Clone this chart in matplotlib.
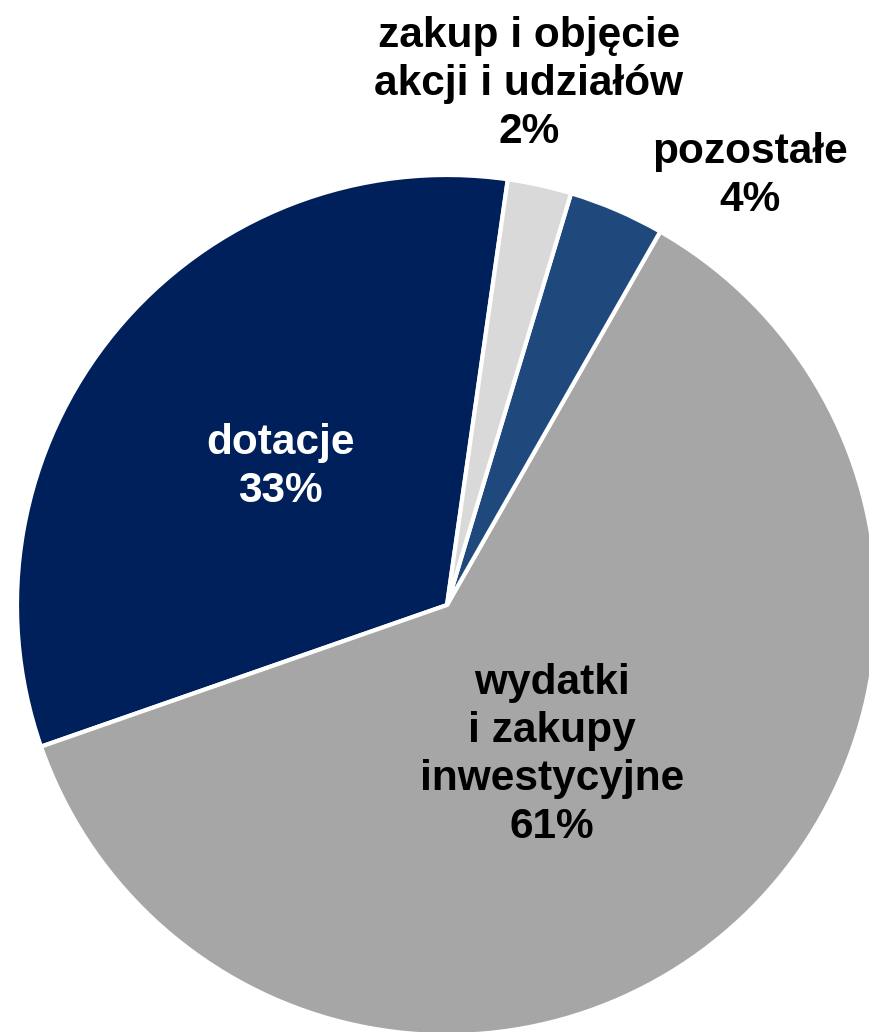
import matplotlib
matplotlib.use("Agg")
import matplotlib.pyplot as plt

categories = ["dotacje", "wydatki\ni zakupy\ninwestycyjne", "pozostałe", "zakup i objęcie\nakcji i udziałów"]
values = [32.6, 61.4, 3.6, 2.4]
pct_labels = ["33%", "61%", "4%", "2%"]
colors = ["#00205C", "#A6A6A6", "#1F487C", "#D9D9D9"]
text_colors = ["white", "black", "black", "black"]

W, H = 869, 1032
fig = plt.figure(figsize=(W / 100, H / 100), dpi=100)
ax = fig.add_axes([0, 0, 1, 1])

cx, cy, r = 447, H - 605, 430
ax.pie(values, colors=colors, startangle=81.87, counterclock=True,
       center=(cx, cy), radius=r,
       wedgeprops=dict(edgecolor="white", linewidth=3.0))
ax.set_xlim(0, W)
ax.set_ylim(0, H)
ax.set_aspect("equal")
ax.axis("off")

label_pos = [(280, 467), (552, 755), (750, 176), (529, 84)]
for cat, pct, tc, (x, y) in zip(categories, pct_labels, text_colors, label_pos):
    ax.text(x, H - y, f"{cat}\n{pct}", ha="center", va="center",
            color=tc, fontsize=30.5, fontweight="bold",
            family=["Liberation Sans", "DejaVu Sans"], linespacing=1.25)

fig.savefig("out.png", dpi=100)
